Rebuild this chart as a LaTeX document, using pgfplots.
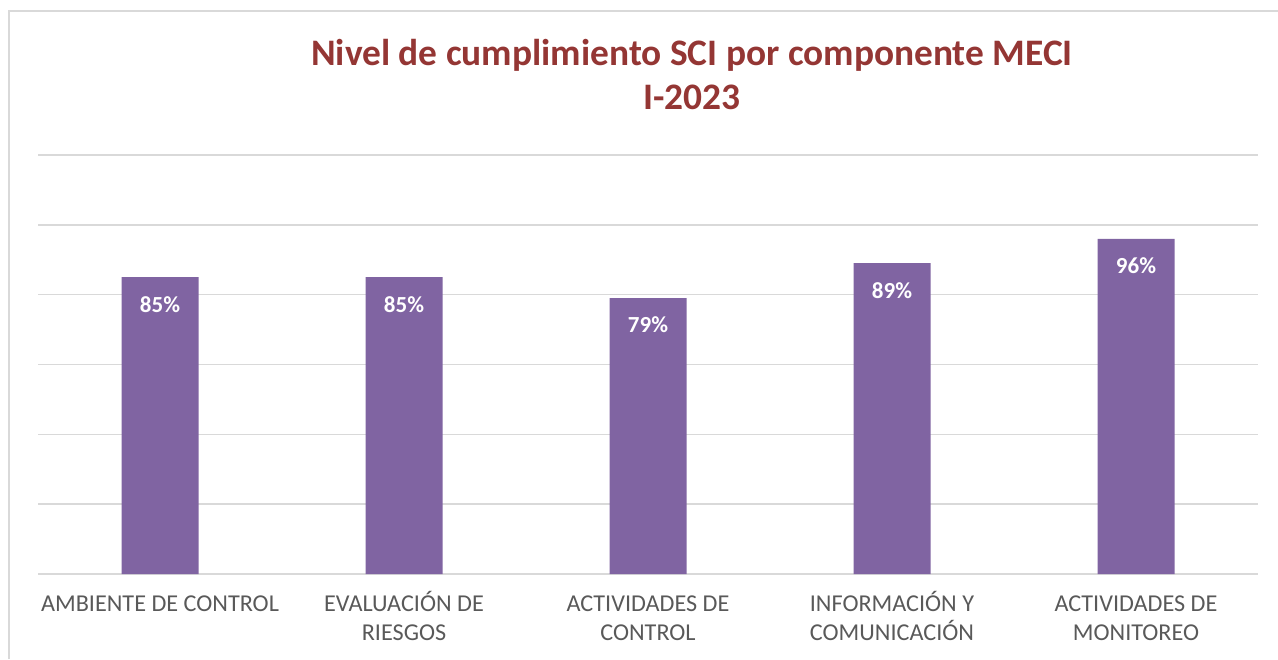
\documentclass[border=0pt]{standalone}
\usepackage{pgfplots}
\pgfplotsset{compat=1.18}
\usepackage{fontspec}
\setmainfont{Carlito}
\definecolor{barc}{HTML}{8064A2}
\definecolor{titc}{HTML}{943634}
\definecolor{gridc}{HTML}{D9D9D9}
\definecolor{labc}{HTML}{595959}
\begin{document}
\begin{tikzpicture}
\useasboundingbox (0,0) rectangle (639pt,329.5pt);
\draw[gridc, line width=0.8pt] (4.5pt,0) -- (4.5pt,324pt) -- (640pt,324pt);
\node[align=center, text=titc, font=\fontsize{18.7}{22}\selectfont\bfseries] at (346pt,292pt) {Nivel de cumplimiento SCI por componente MECI\\I-2023};
\begin{axis}[
  at={(19pt,42.5pt)}, anchor=south west,
  scale only axis, width=610pt, height=209.5pt,
  xmin=-0.5, xmax=4.5, ymin=0, ymax=120,
  axis line style={draw=none},
  ytick={0,20,...,120}, yticklabels={},
  ymajorgrids, grid style={gridc, line width=0.8pt},
  major tick length=0pt,
  xtick={0,1,2,3,4},
  xticklabels={{\vphantom{Ó}AMBIENTE DE CONTROL}, {\vphantom{Ó}EVALUACIÓN DE\\RIESGOS}, {\vphantom{Ó}ACTIVIDADES DE\\CONTROL}, {\vphantom{Ó}INFORMACIÓN Y\\COMUNICACIÓN}, {\vphantom{Ó}ACTIVIDADES DE\\MONITOREO}},
  xticklabel style={align=center, text=labc, font=\fontsize{12.1}{14.5}\selectfont, yshift=-5pt},
  ybar, bar width=38.5pt,
  nodes near coords={\pgfmathprintnumber{\pgfplotspointmeta}\%},
  every node near coord/.append style={anchor=center, yshift=-13.5pt, text=white, font=\fontsize{11.5}{12}\selectfont\bfseries, /pgf/number format/assume math mode=true},
  clip=false,
]
\addplot[fill=barc, draw=none] coordinates {(0,85) (1,85) (2,79) (3,89) (4,96)};
\end{axis}
\end{tikzpicture}
\end{document}
